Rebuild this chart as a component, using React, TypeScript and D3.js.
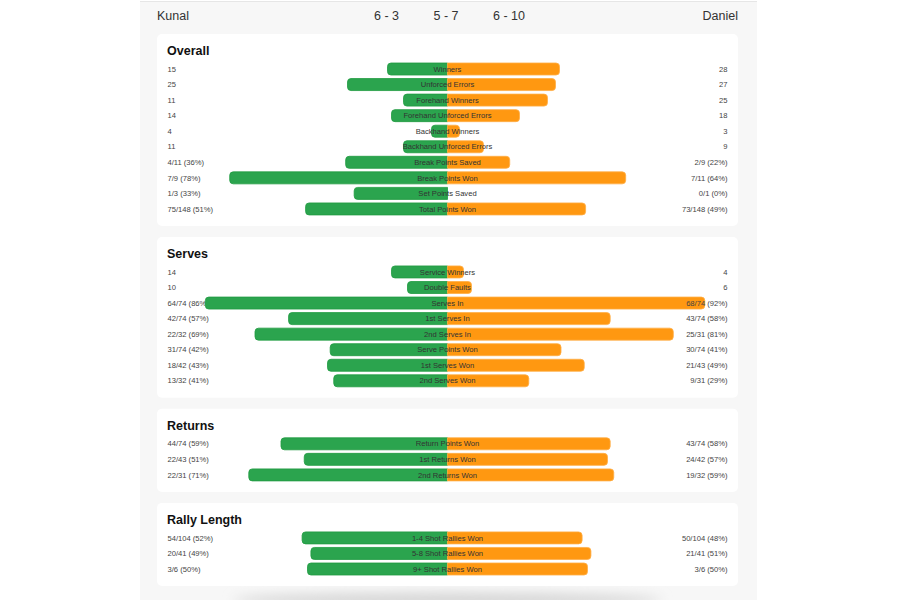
import * as React from "react";
import * as d3 from "d3";

// Match stats: Kunal (left, green) vs Daniel (right, orange)
const playerLeft = "Kunal";
const playerRight = "Daniel";
const setScores = ["6 - 3", "5 - 7", "6 - 10"];

type Stat = {
  label: string;
  left: [number, number] | number;
  right: [number, number] | number;
};

const overallStats: Stat[] = [
  { label: "Winners", left: 15, right: 28 },
  { label: "Unforced Errors", left: 25, right: 27 },
  { label: "Forehand Winners", left: 11, right: 25 },
  { label: "Forehand Unforced Errors", left: 14, right: 18 },
  { label: "Backhand Winners", left: 4, right: 3 },
  { label: "Backhand Unforced Errors", left: 11, right: 9 },
  { label: "Break Points Saved", left: [4, 11], right: [2, 9] },
  { label: "Break Points Won", left: [7, 9], right: [7, 11] },
  { label: "Set Points Saved", left: [1, 3], right: [0, 1] },
  { label: "Total Points Won", left: [75, 148], right: [73, 148] },
];

const serveStats: Stat[] = [
  { label: "Service Winners", left: 14, right: 4 },
  { label: "Double Faults", left: 10, right: 6 },
  { label: "Serves In", left: [64, 74], right: [68, 74] },
  { label: "1st Serves In", left: [42, 74], right: [43, 74] },
  { label: "2nd Serves In", left: [22, 32], right: [25, 31] },
  { label: "Serve Points Won", left: [31, 74], right: [30, 74] },
  { label: "1st Serves Won", left: [18, 42], right: [21, 43] },
  { label: "2nd Serves Won", left: [13, 32], right: [9, 31] },
];

const returnStats: Stat[] = [
  { label: "Return Points Won", left: [44, 74], right: [43, 74] },
  { label: "1st Returns Won", left: [22, 43], right: [24, 42] },
  { label: "2nd Returns Won", left: [22, 31], right: [19, 32] },
];

const rallyStats: Stat[] = [
  { label: "1-4 Shot Rallies Won", left: [54, 104], right: [50, 104] },
  { label: "5-8 Shot Rallies Won", left: [20, 41], right: [21, 41] },
  { label: "9+ Shot Rallies Won", left: [3, 6], right: [3, 6] },
];

const sections = [
  { title: "Overall", stats: overallStats },
  { title: "Serves", stats: serveStats },
  { title: "Returns", stats: returnStats },
  { title: "Rally Length", stats: rallyStats },
];

const FONT = "'Liberation Sans', Arial, Helvetica, sans-serif";
const GREEN = "#2ba44e";
const GREEN_EDGE = "#1f9a40";
const ORANGE = "#ff9811";
const ORANGE_EDGE = "#ffad45";

const PANEL = { x0: 140, x1: 757 };
const CARD = { x0: 157, x1: 738 };
const CENTER = (CARD.x0 + CARD.x1) / 2;
const HALF = 280;
const ROW_H = 15.55;
const BAR_H = 12;

const pctScale = d3.scaleLinear().domain([0, 100]).range([0, HALF]);
const countScale = d3.scaleLinear().domain([0, 70]).range([0, HALF]);

function pct(v: [number, number]) {
  return v[1] === 0 ? 0 : (v[0] / v[1]) * 100;
}

function barLength(v: Stat["left"]) {
  return typeof v === "number" ? countScale(v) : pctScale(pct(v));
}

function valueText(v: Stat["left"]) {
  return typeof v === "number" ? String(v) : `${v[0]}/${v[1]} (${Math.round(pct(v))}%)`;
}

// half bar, rounded only on the outer end
function halfBar(y: number, len: number, dir: -1 | 1) {
  if (len <= 0) return "";
  const r = Math.min(3.5, len);
  const p = d3.path();
  const top = y - BAR_H / 2;
  const bot = y + BAR_H / 2;
  const end = CENTER + dir * len;
  p.moveTo(CENTER, top);
  p.lineTo(end - dir * r, top);
  p.quadraticCurveTo(end, top, end, top + r);
  p.lineTo(end, bot - r);
  p.quadraticCurveTo(end, bot, end - dir * r, bot);
  p.lineTo(CENTER, bot);
  p.closePath();
  return p.toString();
}

export default function App() {
  let top = 34;
  const cards = sections.map((s) => {
    const t = top;
    const firstRow = t + 35;
    const bottom = firstRow + (s.stats.length - 1) * ROW_H + 17;
    top = bottom + 11;
    return { ...s, top: t, firstRow, bottom };
  });

  return (
    <svg
      width={900}
      height={600}
      style={{ position: "absolute", left: 0, top: 0, display: "block" }}
      fontFamily={FONT}
    >
      <defs>
        <filter id="shade" x="-20%" y="-200%" width="140%" height="500%">
          <feGaussianBlur stdDeviation="6" />
        </filter>
      </defs>
      <rect width={900} height={600} fill="#fff" />
      <rect x={PANEL.x0} y={1} width={PANEL.x1 - PANEL.x0} height={599} fill="#f7f7f7" />
      <line x1={PANEL.x0} x2={PANEL.x1} y1={1.5} y2={1.5} stroke="#e6e6e6" strokeWidth={1} />

      {/* header: names at the card edges, set scores left-aligned in a row */}
      <text x={CARD.x0} y={16} dy="0.35em" fontSize={12.5} fill="#333">
        {playerLeft}
      </text>
      <text x={CARD.x1} y={16} dy="0.35em" fontSize={12.5} fill="#333" textAnchor="end">
        {playerRight}
      </text>
      {setScores.map((s, i) => (
        <text key={s} x={374 + i * 59.5} y={16} dy="0.35em" fontSize={12.5} fill="#333">
          {s}
        </text>
      ))}

      {/* soft shadow under the last card */}
      <ellipse cx={CENTER} cy={600} rx={215} ry={7} fill="#d4d4d4" filter="url(#shade)" />

      {cards.map((c) => (
        <g key={c.title}>
          <rect
            x={CARD.x0}
            y={c.top}
            width={CARD.x1 - CARD.x0}
            height={c.bottom - c.top}
            rx={5}
            fill="#fff"
          />
          <text x={CARD.x0 + 10} y={c.top + 17} dy="0.35em" fontSize={12.5} fontWeight="bold" fill="#111">
            {c.title}
          </text>
          {c.stats.map((st, i) => {
            const y = c.firstRow + i * ROW_H;
            const lw = barLength(st.left);
            const rw = barLength(st.right);
            return (
              <g key={st.label}>
                <text x={CENTER - HALF} y={y} dy="0.35em" fontSize={7.6} fill="#444">
                  {valueText(st.left)}
                </text>
                <path d={halfBar(y, Math.max(lw, 1.5), -1)} fill={GREEN} stroke={GREEN_EDGE} strokeWidth={0.8} />
                {rw > 0 && (
                  <path d={halfBar(y, rw, 1)} fill={ORANGE} stroke={ORANGE_EDGE} strokeWidth={0.8} />
                )}
                <text x={CENTER} y={y} dy="0.35em" fontSize={7.6} fill="#333" textAnchor="middle">
                  {st.label}
                </text>
                <text x={CENTER + HALF} y={y} dy="0.35em" fontSize={7.6} fill="#444" textAnchor="end">
                  {valueText(st.right)}
                </text>
              </g>
            );
          })}
        </g>
      ))}
    </svg>
  );
}
